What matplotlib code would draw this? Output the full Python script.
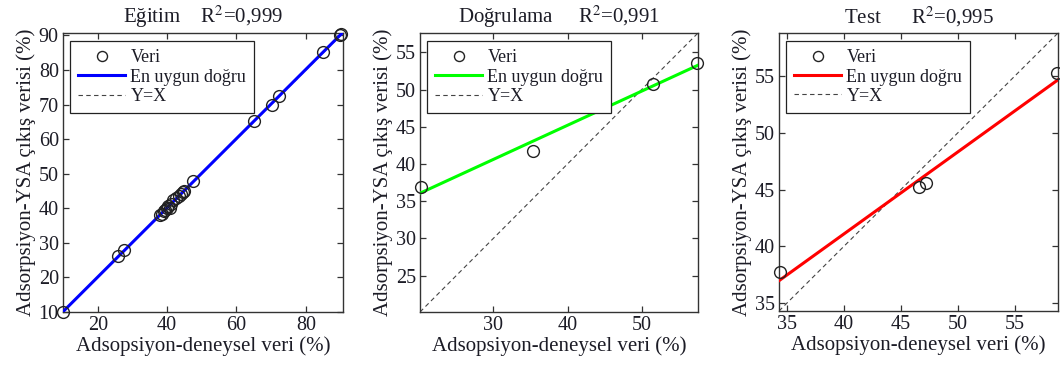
import numpy as np
import matplotlib
matplotlib.use("Agg")
import matplotlib.pyplot as plt

plt.rcParams["font.family"] = ["Liberation Serif", "DejaVu Serif"]
plt.rcParams["mathtext.fontset"] = "stix"

# Experimental (target) vs. ANN output adsorption values, %
train_exp = [10.0, 25.8, 27.5, 38.0, 38.5, 39.0, 39.5, 40.0, 40.3, 40.8, 41.0,
             41.6, 42.5, 43.3, 44.0, 44.6, 45.0, 47.6, 65.1, 70.2, 72.3, 84.9, 89.8, 90.1]
train_ann = [10.0, 26.1, 27.8, 38.0, 38.4, 39.2, 39.6, 40.0, 40.6, 40.2, 41.2,
             42.5, 42.9, 43.6, 44.2, 44.6, 44.9, 47.8, 65.2, 70.0, 72.5, 85.2, 90.0, 90.5]

val_exp = [20.2, 35.4, 51.5, 57.5]
val_ann = [36.9, 41.7, 50.7, 53.6]

test_exp = [34.4, 46.6, 47.2, 58.7]
test_ann = [37.7, 45.2, 45.6, 55.3]

titles = ["Eğitim    R$^{2}$=0,999",
          "Doğrulama     R$^{2}$=0,991",
          "Test      R$^{2}$=0,995"]
fit_colors = ["#0000ff", "#00ff00", "#ff0000"]
x_ticks = [[20, 40, 60, 80], [30, 40, 50], [35, 40, 45, 50, 55]]
y_ticks = [[10, 20, 30, 40, 50, 60, 70, 80, 90],
           [25, 30, 35, 40, 45, 50, 55],
           [35, 40, 45, 50, 55]]
x_label = "Adsopsiyon-deneysel veri (%)"
y_label = "Adsorpsiyon-YSA çıkış verisi (%)"
legend_labels = ["Veri", "En uygun doğru", "Y=X"]

datasets = [(train_exp, train_ann), (val_exp, val_ann), (test_exp, test_ann)]

W, H = 1060, 370
fig = plt.figure(figsize=(W / 100, H / 100), dpi=100)

# axes boxes in pixels: left, right, top, bottom
boxes = [(63, 343, 33, 312), (420, 698, 33, 312), (779, 1058, 33, 311)]

text_color = "#1c1c26"
spine_color = "#333333"

for i, ((xe, ya), box) in enumerate(zip(datasets, boxes)):
    l, r, t, b = box
    ax = fig.add_axes([l / W, 1 - b / H, (r - l) / W, (b - t) / H])
    xe = np.asarray(xe)
    ya = np.asarray(ya)
    lo = min(xe.min(), ya.min())
    hi = max(xe.max(), ya.max())
    if i == 0:
        lo, hi = 10.0, 90.7
    else:
        lo, hi = lo - 0.1, hi + 0.1

    slope, intercept = np.polyfit(xe, ya, 1)
    xs = np.array([lo, hi])

    h_data, = ax.plot(xe, ya, linestyle="none", marker="o", markersize=8.5,
                      markerfacecolor="none", markeredgecolor="#222222",
                      markeredgewidth=1.0, zorder=4, clip_on=False)
    h_fit, = ax.plot(xs, slope * xs + intercept, color=fit_colors[i],
                     linewidth=2.2, zorder=3)
    h_yx, = ax.plot(xs, xs, linestyle=(0, (4, 3)), color="#444444",
                    linewidth=0.8, zorder=2)

    ax.set_xlim(lo, hi)
    ax.set_ylim(lo, hi)
    ax.set_xticks(x_ticks[i])
    ax.set_yticks(y_ticks[i])
    ax.tick_params(direction="in", length=4, width=0.9, top=True, right=True,
                   labelsize=14.5, colors=spine_color, labelcolor=text_color,
                   pad=3)
    for s in ax.spines.values():
        s.set_color(spine_color)
        s.set_linewidth(1.0)

    ax.set_title(titles[i], fontsize=15, color=text_color, pad=7)
    ax.set_xlabel(x_label, fontsize=15, color=text_color, labelpad=1)
    ax.set_ylabel(y_label, fontsize=15, color=text_color, labelpad=2)

    leg = ax.legend([h_data, h_fit, h_yx], legend_labels, loc="upper left",
                    bbox_to_anchor=(0.025, 0.97), fontsize=13,
                    handlelength=2.6, handletextpad=0.3, labelspacing=0.12,
                    borderpad=0.45, fancybox=False, framealpha=1,
                    edgecolor="#222222", borderaxespad=0, markerscale=0.85)
    leg.get_frame().set_linewidth(0.9)
    for txt in leg.get_texts():
        txt.set_color(text_color)

fig.savefig("out.png", dpi=100)
